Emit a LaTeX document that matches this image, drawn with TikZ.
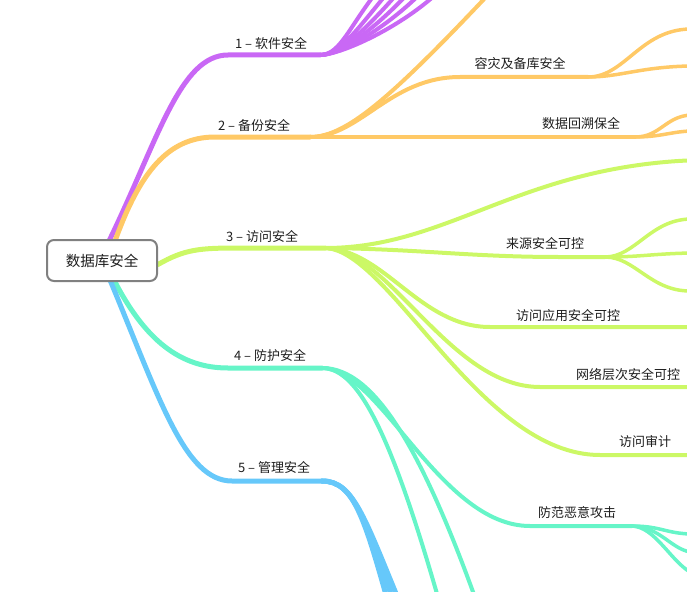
\documentclass[tikz,border=0pt]{standalone}
\usepackage{fontspec}
\setmainfont{Noto Sans CJK SC}
\usetikzlibrary{backgrounds}
\definecolor{cPur}{RGB}{201,104,245}
\definecolor{cOra}{RGB}{255,201,102}
\definecolor{cLim}{RGB}{204,248,102}
\definecolor{cTea}{RGB}{102,245,200}
\definecolor{cBlu}{RGB}{102,200,250}
\definecolor{cTxt}{RGB}{30,30,30}
\definecolor{cBox}{RGB}{128,128,128}
\tikzset{
  mainbr/.style={line width=5pt, line cap=round},
  subbr/.style={line width=4pt, line cap=round},
  leafbr/.style={line width=3.5pt, line cap=round},
  lbl/.style={font=\fontsize{13}{15}\selectfont, text=cTxt, inner sep=0pt},
  rootbox/.style={draw=cBox, line width=2pt, rounded corners=7pt, fill=white,
    minimum width=110pt, minimum height=41pt, inner sep=0pt,
    font=\fontsize{14.5}{17}\selectfont, text=cTxt}
}
\begin{document}
\begin{tikzpicture}[x=1pt,y=-1pt]
\useasboundingbox (0,0) rectangle (687,591);
\node[rootbox] (root) at (102,260.5) {数据库安全};
% anchors on the root
\coordinate (rP) at ([xshift=7pt,yshift=-2pt]root.north);
\coordinate (rO) at ([xshift=13pt,yshift=-2pt]root.north);
\coordinate (rG) at ([yshift=-4pt]root.east);
\coordinate (rT) at ([xshift=12pt,yshift=2pt]root.south);
\coordinate (rB) at ([xshift=8pt,yshift=2pt]root.south);
% junctions
\coordinate (j1) at (320,55);
\coordinate (j2) at (310,137);
\coordinate (j2a) at (588,77);
\coordinate (j2b) at (635,137);
\coordinate (j3) at (325,248);
\coordinate (j3a) at (605,257);
\coordinate (j4) at (322,368);
\coordinate (j4a) at (632,526);
\coordinate (j5) at (322,481);
\begin{scope}[on background layer]
\clip (0,0) rectangle (687,591);
% 1 purple
\draw[mainbr, cPur] (rP) .. controls (158,140) and (180,55) .. (228,55) -- (j1);
\foreach \e in {388,400,411,422,435,452}
  \draw[subbr, cPur] (j1) .. controls (342,55) and ({\e-38},22) .. (\e,-22);
% 2 orange
\draw[mainbr, cOra] (rO) .. controls (140,172) and (168,137) .. (215,137) -- (j2);
\draw[subbr, cOra] (j2) .. controls (350,137) and (400,90) .. (530,-50);
\draw[subbr, cOra] (j2) .. controls (360,137) and (390,77) .. (460,77) -- (j2a);
\draw[leafbr, cOra] (j2a) .. controls (625,77) and (640,30) .. (690,29);
\draw[leafbr, cOra] (j2a) .. controls (620,77) and (640,67) .. (690,66);
\draw[subbr, cOra] (j2) -- (j2b);
\draw[leafbr, cOra] (j2b) .. controls (660,137) and (665,117) .. (690,115);
\draw[leafbr, cOra] (j2b) .. controls (660,137) and (670,132) .. (690,131);
% 3 lime
\draw[mainbr, cLim] (rG) .. controls (185,249) and (200,248) .. (240,248) -- (j3);
\draw[subbr, cLim] (j3) .. controls (450,248) and (520,165) .. (700,160);
\draw[subbr, cLim] (j3) .. controls (420,249) and (470,257) .. (560,257) -- (j3a);
\draw[leafbr, cLim] (j3a) .. controls (635,257) and (650,220) .. (690,219);
\draw[leafbr, cLim] (j3a) .. controls (640,257) and (650,254) .. (690,253);
\draw[leafbr, cLim] (j3a) .. controls (635,257) and (650,291) .. (690,291);
\draw[subbr, cLim] (j3) .. controls (385,250) and (420,327) .. (490,327) -- (690,327);
\draw[subbr, cLim] (j3) .. controls (390,250) and (450,387) .. (540,387) -- (690,387);
\draw[subbr, cLim] (j3) .. controls (390,250) and (480,455) .. (600,455) -- (690,455);
% 4 teal
\draw[mainbr, cTea] (rT) .. controls (145,340) and (180,368) .. (228,368) -- (j4);
\draw[subbr, cTea] (j4) .. controls (380,368) and (440,526) .. (530,526) -- (j4a);
\draw[leafbr, cTea] (j4a) .. controls (660,526) and (665,533) .. (690,534);
\draw[leafbr, cTea] (j4a) .. controls (660,527) and (670,548) .. (690,552);
\draw[leafbr, cTea] (j4a) .. controls (655,527) and (670,560) .. (690,572);
\draw[subbr, cTea] (j4) .. controls (360,368) and (395,440) .. (450,640);
\draw[subbr, cTea] (j4) .. controls (375,368) and (425,450) .. (490,640);
% 5 blue
\draw[mainbr, cBlu] (rB) .. controls (160,400) and (185,481) .. (232,481) -- (j5);
\foreach \e in {393,400,407}
  \draw[mainbr, cBlu] (j5) .. controls (355,481) and (365,520) .. (\e,620);
\end{scope}
% labels
\node[lbl] (l1) at (271,43) {1 – 软件安全};
\node[lbl] (l2) at (254,125) {2 – 备份安全};
\node[lbl] (l3) at (262,236) {3 – 访问安全};
\node[lbl] (l4) at (270,355) {4 – 防护安全};
\node[lbl] (l5) at (274,467) {5 – 管理安全};
\node[lbl] (l21) at (520,64) {容灾及备库安全};
\node[lbl] (l22) at (581,124) {数据回溯保全};
\node[lbl] (l31) at (545,243) {来源安全可控};
\node[lbl] (l32) at (568,316) {访问应用安全可控};
\node[lbl] (l33) at (628,375) {网络层次安全可控};
\node[lbl] (l34) at (645,442) {访问审计};
\node[lbl] (l41) at (577,513) {防范恶意攻击};
\end{tikzpicture}
\end{document}
